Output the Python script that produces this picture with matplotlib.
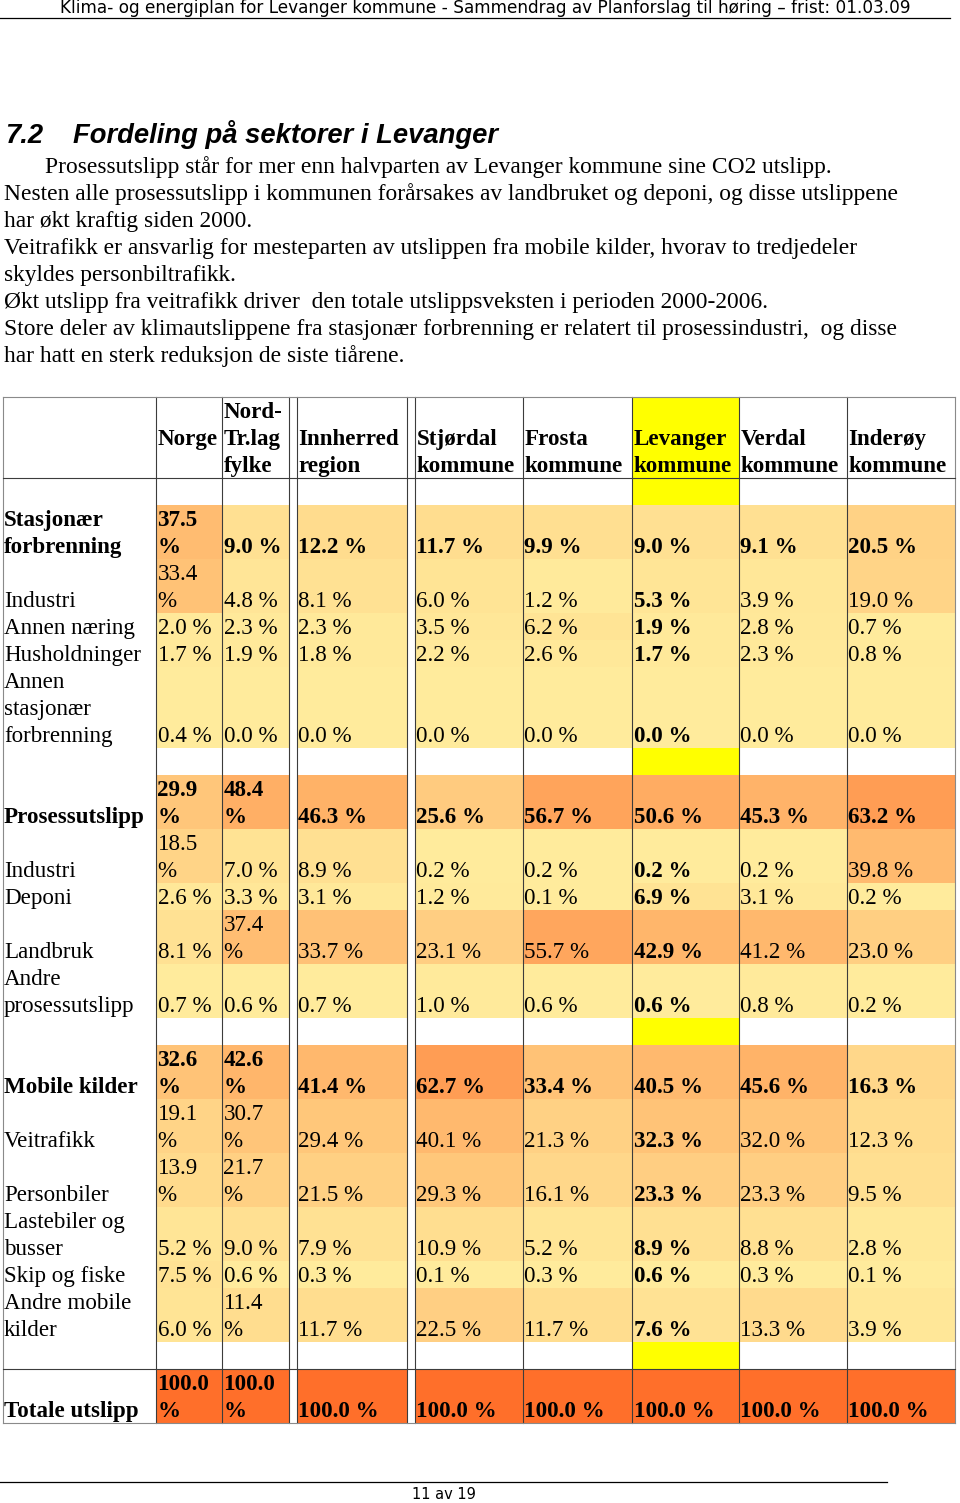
import matplotlib
matplotlib.use("Agg")
import matplotlib.pyplot as plt
from matplotlib.colors import LinearSegmentedColormap, Normalize
from matplotlib.patches import Rectangle

# ── data ────────────────────────────────────────────
HEADER = "Klima- og energiplan for Levanger kommune - Sammendrag av Planforslag til høring – frist: 01.03.09"
HEADING_NO = "7.2"
HEADING = "Fordeling på sektorer i Levanger"
PARAGRAPH = [
    "Prosessutslipp står for mer enn halvparten av Levanger kommune sine CO2 utslipp.",
    "Nesten alle prosessutslipp i kommunen forårsakes av landbruket og deponi, og disse utslippene",
    "har økt kraftig siden 2000.",
    "Veitrafikk er ansvarlig for mesteparten av utslippen fra mobile kilder, hvorav to tredjedeler",
    "skyldes personbiltrafikk.",
    "Økt utslipp fra veitrafikk driver  den totale utslippsveksten i perioden 2000-2006.",
    "Store deler av klimautslippene fra stasjonær forbrenning er relatert til prosessindustri,  og disse",
    "har hatt en sterk reduksjon de siste tiårene.",
]
PAGE_NO = "11 av 19"

columns = ["Norge", "Nord-\nTr.lag\nfylke", "Innherred\nregion", "Stjørdal\nkommune",
           "Frosta\nkommune", "Levanger\nkommune", "Verdal\nkommune", "Inderøy\nkommune"]
highlight_col = "Levanger\nkommune"

row_labels = [
    "",
    "Stasjonær\nforbrenning", "Industri", "Annen næring", "Husholdninger",
    "Annen\nstasjonær\nforbrenning", "",
    "Prosessutslipp", "Industri", "Deponi", "Landbruk", "Andre\nprosessutslipp", "",
    "Mobile kilder", "Veitrafikk", "Personbiler", "Lastebiler og\nbusser",
    "Skip og fiske", "Andre mobile\nkilder", "",
    "Totale utslipp",
]
bold_rows = ["Stasjonær\nforbrenning", "Prosessutslipp", "Mobile kilder", "Totale utslipp"]

row_values = [
    None,
    [37.5, 9.0, 12.2, 11.7, 9.9, 9.0, 9.1, 20.5],
    [33.4, 4.8, 8.1, 6.0, 1.2, 5.3, 3.9, 19.0],
    [2.0, 2.3, 2.3, 3.5, 6.2, 1.9, 2.8, 0.7],
    [1.7, 1.9, 1.8, 2.2, 2.6, 1.7, 2.3, 0.8],
    [0.4, 0.0, 0.0, 0.0, 0.0, 0.0, 0.0, 0.0],
    None,
    [29.9, 48.4, 46.3, 25.6, 56.7, 50.6, 45.3, 63.2],
    [18.5, 7.0, 8.9, 0.2, 0.2, 0.2, 0.2, 39.8],
    [2.6, 3.3, 3.1, 1.2, 0.1, 6.9, 3.1, 0.2],
    [8.1, 37.4, 33.7, 23.1, 55.7, 42.9, 41.2, 23.0],
    [0.7, 0.6, 0.7, 1.0, 0.6, 0.6, 0.8, 0.2],
    None,
    [32.6, 42.6, 41.4, 62.7, 33.4, 40.5, 45.6, 16.3],
    [19.1, 30.7, 29.4, 40.1, 21.3, 32.3, 32.0, 12.3],
    [13.9, 21.7, 21.5, 29.3, 16.1, 23.3, 23.3, 9.5],
    [5.2, 9.0, 7.9, 10.9, 5.2, 8.9, 8.8, 2.8],
    [7.5, 0.6, 0.3, 0.1, 0.3, 0.6, 0.3, 0.1],
    [6.0, 11.4, 11.7, 22.5, 11.7, 7.6, 13.3, 3.9],
    None,
    [100.0, 100.0, 100.0, 100.0, 100.0, 100.0, 100.0, 100.0],
]

# ── layout (pixels) ─────────────────────────────────
W, H = 960, 1503
SERIF = "Liberation Serif"
FS = 16.6            # table text, pt
BODY_FS = 16.9       # paragraph text, pt
LINE_H = 27          # one text line in the table
BASE = 21            # baseline offset inside a line
TABLE_TOP = 397
LABEL_X = (3, 156)
COL_X = [(156, 222), (222, 289), (297, 407), (415, 523),
         (523, 632), (632, 739), (739, 847), (847, 955)]
NARROW = 2           # first two columns wrap "xx.x %"
VLINES = [156, 222, 289, 297, 407, 415, 523, 632, 739, 847]

heat = LinearSegmentedColormap.from_list("heat", ["#FFEB9C", "#FF6F2A"])
norm = Normalize(0, 100)
YELLOW = "#FFFF00"
LINE_C = "#3c3c3c"

fig = plt.figure(figsize=(W / 100, H / 100), dpi=100)
ax = fig.add_axes([0, 0, 1, 1])
ax.set_xlim(0, W)
ax.set_ylim(H, 0)
ax.axis("off")


def put_lines(x, top, first, lines, bold, **kw):
    for k, s in enumerate(lines):
        ax.text(x, top + LINE_H * (first + k) + BASE, s, ha="left", va="baseline",
                family=SERIF, fontsize=FS, fontweight="bold" if bold else "normal", **kw)


def cell_text(v, j):
    s = f"{v:.1f} %"
    if j < NARROW and len(s) > 5:
        return [f"{v:.1f}", "%"]
    return [s]


# ── page header ─────────────────────────────────────
t = ax.text(485, 13, HEADER, ha="center", va="baseline", family="DejaVu Sans", fontsize=10)
fig.canvas.draw()
t.set_fontsize(10 * 850 / t.get_window_extent().width)
ax.plot([0, 950], [18, 18], color="black", lw=0.9)

ax.text(5, 143, HEADING_NO, family="Liberation Sans", fontsize=19.7,
        fontweight="bold", style="italic", va="baseline")
ax.text(73, 143, HEADING, family="Liberation Sans", fontsize=19.7,
        fontweight="bold", style="italic", va="baseline")

for i, line in enumerate(PARAGRAPH):
    ax.text(45 if i == 0 else 4, 173 + 27 * i, line, family=SERIF, fontsize=BODY_FS,
            va="baseline", ha="left")

# ── table ───────────────────────────────────────────
hl = columns.index(highlight_col)
head_lines = max(len(c.split("\n")) for c in columns)
ax.add_patch(Rectangle((COL_X[hl][0], TABLE_TOP), COL_X[hl][1] - COL_X[hl][0],
                       head_lines * LINE_H, color=YELLOW, lw=0))
for j, c in enumerate(columns):
    parts = c.split("\n")
    first = -(-(head_lines - len(parts)) // 2)
    put_lines(COL_X[j][0] + 1.5, TABLE_TOP, first, parts, True)

top = TABLE_TOP + head_lines * LINE_H
y_head_bottom = top
y_total_line = None
for label, vals in zip(row_labels, row_values):
    lab_lines = label.split("\n") if label else []
    texts = [cell_text(v, j) for j, v in enumerate(vals)] if vals else []
    n = max([1, len(lab_lines)] + [len(tx) for tx in texts])
    bold = label in bold_rows
    if vals is None:
        ax.add_patch(Rectangle((COL_X[hl][0], top), COL_X[hl][1] - COL_X[hl][0],
                               n * LINE_H, color=YELLOW, lw=0))
    else:
        if label == "Totale utslipp":
            y_total_line = top
        for j, v in enumerate(vals):
            x0, x1 = COL_X[j]
            ax.add_patch(Rectangle((x0, top), x1 - x0, n * LINE_H,
                                   color=heat(norm(v)), lw=0))
            put_lines(x0 + 1.5, top, n - len(texts[j]), texts[j], bold or j == hl)
        put_lines(LABEL_X[0] + 1, top, n - len(lab_lines), lab_lines, bold)
    top += n * LINE_H
table_bottom = top

for x in VLINES:
    ax.plot([x, x], [TABLE_TOP, table_bottom], color=LINE_C, lw=0.8)
for x in (LABEL_X[0], COL_X[-1][1]):
    ax.plot([x, x], [TABLE_TOP, table_bottom], color="#8a8a8a", lw=0.8)
ax.plot([LABEL_X[0], COL_X[-1][1]], [TABLE_TOP, TABLE_TOP], color="#8a8a8a", lw=0.8)
ax.plot([LABEL_X[0], COL_X[-1][1]], [y_head_bottom, y_head_bottom], color=LINE_C, lw=0.8)
ax.plot([LABEL_X[0], COL_X[-1][1]], [y_total_line, y_total_line], color=LINE_C, lw=0.8)
ax.plot([LABEL_X[0], COL_X[-1][1]], [table_bottom, table_bottom], color="#8a8a8a", lw=0.8)

# ── footer ──────────────────────────────────────────
ax.plot([0, 887], [1482, 1482], color="black", lw=0.9)
ax.text(444, 1499, PAGE_NO, ha="center", va="baseline", family="DejaVu Sans", fontsize=10.5)

fig.savefig("out.png", dpi=100, facecolor="white")
